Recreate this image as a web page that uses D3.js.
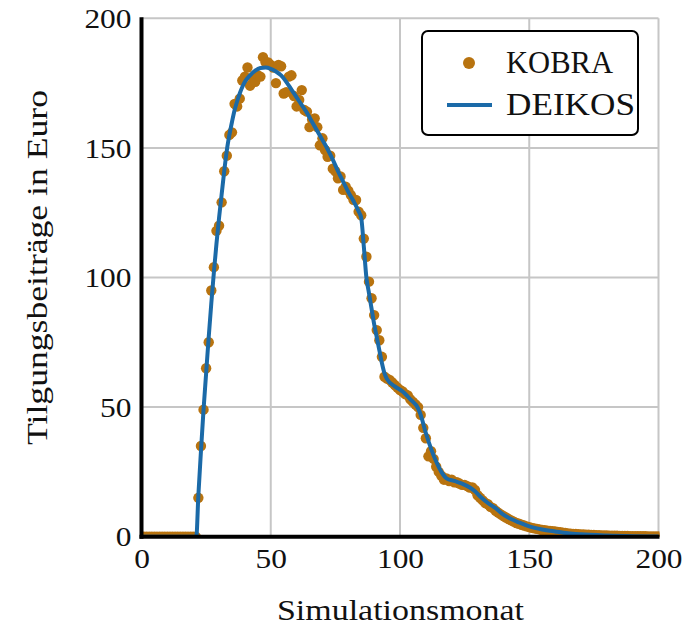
<!DOCTYPE html>
<html>
<head>
<meta charset="utf-8">
<script src="https://cdn.jsdelivr.net/npm/d3@7"></script>
<style>
  html, body { margin: 0; padding: 0; background: #fff; }
  svg { display: block; }
  text { font-family: "Liberation Serif", "DejaVu Serif", serif; fill: #111; }
</style>
</head>
<body>
<svg id="chart" width="693" height="629"></svg>
<script>
// ---- data ----
const xTicks = [0, 50, 100, 150, 200];
const yTicks = [0, 50, 100, 150, 200];
const xLabel = "Simulationsmonat";
const yLabel = "Tilgungsbeiträge in Euro";
const seriesNames = ["KOBRA", "DEIKOS"];

// KOBRA: one value per simulation month, months 0..200
const kobraMonths = d3.range(0, 201);
const kobraValues = [
  0,0,0,0,0,0,0,0,0,0, 0,0,0,0,0,0,0,0,0,0, 0,0,            // 0-21
  15,35,49,65,75,95,104,118,120,129,                         // 22-31
  141,147,155,156,167,166,169,176,177.5,181,                 // 32-41
  174,177,175.5,178,177.5,185,183,183,182,181,               // 42-51
  175,182,181.5,171,171.5,177.5,178,170,166,168.5,           // 52-61
  172.3,164.6,164,158,161,161.4,158,151,153.7,149.2,         // 62-71
  146.6,147,142,141,138.3,139,133.8,135,133.5,131.8,         // 72-81
  130,129.9,125.4,124,115,108,98.4,92,85.5,79.7,             // 82-91
  75.8,69.4,61.7,61,60.5,59.5,58.5,57.5,56.6,56,             // 92-101
  55,54.5,53,52,51,50,47,42,38,31,                           // 102-111
  33,30,27,25,23.5,22,22.5,21.5,22,21,                       // 112-121
  21,20.5,20,20,19.5,19,19,18,16,15,                         // 122-131
  14,13,12.5,11.5,11,10,9.3,8.6,8,7.4,                       // 132-141
  6.8,6.3,5.8,5.3,5,4.6,4.3,4,3.7,3.4,                       // 142-151
  3.2,3,2.8,2.6,2.5,2.3,2.2,2.1,2,1.8,                       // 152-161
  1.7,1.5,1.4,1.3,1.2,1.1,1.05,1,0.9,0.85,                   // 162-171
  0.8,0.75,0.7,0.65,0.6,0.55,0.5,0.48,0.45,0.42,             // 172-181
  0.4,0.37,0.35,0.32,0.3,0.28,0.26,0.24,0.22,0.2,            // 182-191
  0.19,0.18,0.16,0.15,0.14,0.13,0.12,0.11,0.1                // 192-200
];

// DEIKOS: curve at these months
const deikosMonths = [0,21.2,22,23,24,25,26,27,28,29,30,31,32,33,34,35,36,37,38,39,40,42,44,46,48,50,52,54,56,58,60,62,64,66,68,70,72,74,76,78,80,82,84,85,86,87,88,89,90,91,92,93,94,95,98,101,104,107,108,110,112,114,116,118,121,124,127,129,131,134,137,140,143,146,150,155,160,165,170,180,190,200];
const deikosValues = [0,0,16,33,49,63,77,90,102,113,123,132,141,149,155,160,164.5,168,171,173.5,175.5,178,179.8,180.8,181,180.5,179.5,178,175.5,172.5,169.5,166.5,163.5,160,156.5,153,149.5,145.5,141,137,133,129.5,125.5,123,112,100,94,88,82,77,72,67,63,60.8,58,56,53,49.5,47,40,34,29,25,22.5,21.5,20.5,19,17.5,15.5,13,11,8.5,6.8,5.5,4,2.8,2,1.3,0.9,0.45,0.2,0.1];

// ---- layout ----
const svg = d3.select("#chart");
const L = 141.5, R = 658.5, T = 18.3, B = 536.7;

const x = d3.scaleLinear().domain([0, 200]).range([L, R]);
const y = d3.scaleLinear().domain([0, 200]).range([B, T]);

const orange = "#b8730f";
const blue = "#1b6aa8";
const grid = "#c6c6c6";
const digitW = 15.7; // rendered width of one tick-label digit

// grid
svg.append("g").selectAll("line.v").data(xTicks.filter(d => d > 0)).join("line")
  .attr("x1", d => x(d)).attr("x2", d => x(d)).attr("y1", T).attr("y2", B)
  .attr("stroke", grid).attr("stroke-width", 2);
svg.append("g").selectAll("line.h").data(yTicks.filter(d => d > 0)).join("line")
  .attr("x1", L).attr("x2", R).attr("y1", d => y(d)).attr("y2", d => y(d))
  .attr("stroke", grid).attr("stroke-width", 2);

// clip
svg.append("defs").append("clipPath").attr("id", "plotclip")
  .append("rect").attr("x", L).attr("y", T - 2).attr("width", R - L + 1).attr("height", B - T + 2);

const plot = svg.append("g").attr("clip-path", "url(#plotclip)");

const kobra = kobraMonths.map((m, i) => ({ m, v: kobraValues[i] }));
plot.selectAll("circle").data(kobra).join("circle")
  .attr("cx", d => x(d.m)).attr("cy", d => y(d.v)).attr("r", 5.2)
  .attr("fill", orange);

const deikos = deikosMonths.map((m, i) => ({ m, v: deikosValues[i] }));
plot.append("path").datum(deikos)
  .attr("fill", "none").attr("stroke", blue).attr("stroke-width", 4)
  .attr("stroke-linejoin", "round")
  .attr("d", d3.line().x(d => x(d.m)).y(d => y(d.v)).curve(d3.curveMonotoneX));

// axes (black, thick)
svg.append("line").attr("x1", L).attr("x2", L).attr("y1", T - 1).attr("y2", B + 2)
  .attr("stroke", "#000").attr("stroke-width", 4);
svg.append("line").attr("x1", L - 2).attr("x2", R + 1).attr("y1", B).attr("y2", B)
  .attr("stroke", "#000").attr("stroke-width", 4);

// tick labels via d3 axes (no tick lines)
const xAxis = d3.axisBottom(x).tickValues(xTicks).tickSize(0).tickPadding(0).tickFormat(d3.format("d"));
const gx = svg.append("g").attr("transform", `translate(0,${B + 12})`).call(xAxis);
gx.select(".domain").remove();
gx.selectAll("text").attr("font-size", 27).attr("dy", "0.71em")
  .attr("font-family", "Liberation Serif").attr("fill", "#111")
  .attr("textLength", d => String(d).length * digitW).attr("lengthAdjust", "spacingAndGlyphs");

const yAxis = d3.axisLeft(y).tickValues(yTicks).tickSize(0).tickPadding(0).tickFormat(d3.format("d"));
const gy = svg.append("g").attr("transform", `translate(${L - 10},0)`).call(yAxis);
gy.select(".domain").remove();
gy.selectAll("text").attr("font-size", 27).attr("dy", "0.34em")
  .attr("font-family", "Liberation Serif").attr("fill", "#111")
  .attr("textLength", d => String(d).length * digitW).attr("lengthAdjust", "spacingAndGlyphs");

// axis titles
svg.append("text").attr("x", 400.5).attr("y", 620).attr("text-anchor", "middle")
  .attr("font-size", 29).attr("textLength", 247).attr("lengthAdjust", "spacingAndGlyphs")
  .text(xLabel);
svg.append("text").attr("transform", `translate(47,267.5) rotate(-90)`)
  .attr("text-anchor", "middle").attr("font-size", 29)
  .attr("textLength", 355).attr("lengthAdjust", "spacingAndGlyphs").text(yLabel);

// legend
const lg = svg.append("g");
lg.append("rect").attr("x", 422).attr("y", 31).attr("width", 216).attr("height", 104)
  .attr("rx", 6).attr("fill", "#fff").attr("stroke", "#000").attr("stroke-width", 2);
lg.append("circle").attr("cx", 469).attr("cy", 63).attr("r", 6).attr("fill", orange);
lg.append("line").attr("x1", 447).attr("x2", 492).attr("y1", 105).attr("y2", 105)
  .attr("stroke", blue).attr("stroke-width", 4);
lg.append("text").attr("x", 506).attr("y", 73).attr("font-size", 31)
  .attr("textLength", 107).attr("lengthAdjust", "spacingAndGlyphs").text(seriesNames[0]);
lg.append("text").attr("x", 506).attr("y", 115).attr("font-size", 31)
  .attr("textLength", 129).attr("lengthAdjust", "spacingAndGlyphs").text(seriesNames[1]);
</script>
</body>
</html>
